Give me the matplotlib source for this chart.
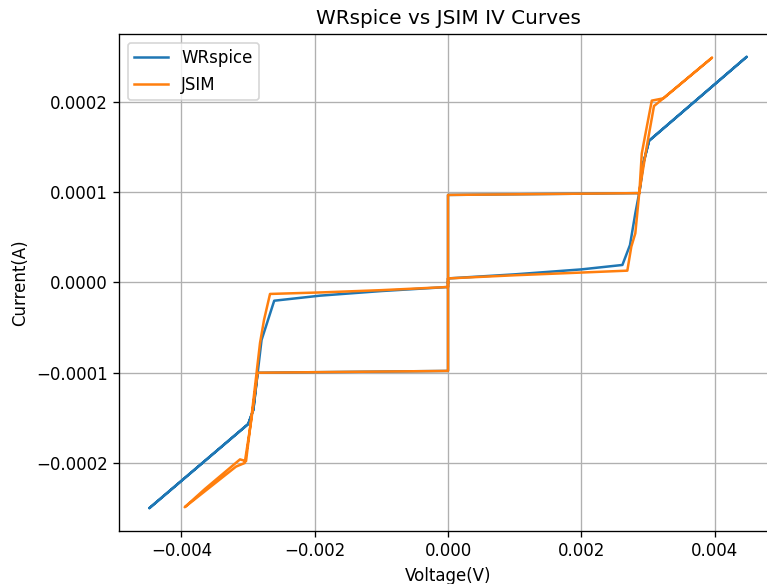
import matplotlib
matplotlib.use("Agg")
import matplotlib.pyplot as plt

# WRspice sweep: supercurrent branch, gap rise, normal branch, back down
# the subgap branch, then the same on the negative side
wr_v = [0.0, 0.0, 2.87e-3, 2.93e-3, 3.017e-3, 4.48e-3,
        3.017e-3, 2.93e-3, 2.87e-3, 2.81e-3, 2.73e-3, 2.616e-3,
        2.0e-3, 1.0e-3, 0.0,
        0.0, -2.856e-3, -2.92e-3, -2.997e-3, -4.48e-3,
        -2.997e-3, -2.92e-3, -2.856e-3, -2.797e-3, -2.607e-3,
        -1.92e-3, -1.0e-3, 0.0, 0.0]
wr_i = [0.0, 9.7e-5, 9.9e-5, 1.32e-4, 1.571e-4, 2.5e-4,
        1.571e-4, 1.32e-4, 1.0e-4, 7.67e-5, 4.15e-5, 1.94e-5,
        1.45e-5, 9.0e-6, 4.5e-6,
        -9.8e-5, -1.0e-4, -1.41e-4, -1.568e-4, -2.5e-4,
        -1.568e-4, -1.41e-4, -1.005e-4, -6.37e-5, -2.02e-5,
        -1.46e-5, -9.5e-6, -5.0e-6, 0.0]

# JSIM sweep, same order
js_v = [0.0, 0.0, 2.87e-3, 2.907e-3, 2.95e-3, 3.057e-3, 3.23e-3, 3.96e-3,
        3.23e-3, 3.09e-3, 2.98e-3, 2.87e-3, 2.81e-3, 2.75e-3, 2.69e-3,
        2.0e-3, 1.0e-3, 0.0,
        0.0, -2.856e-3, -2.95e-3, -3.05e-3, -3.18e-3, -3.95e-3,
        -3.65e-3, -3.12e-3, -3.03e-3, -2.95e-3, -2.82e-3, -2.76e-3,
        -2.67e-3, -1.9e-3, -1.0e-3, 0.0, 0.0]
js_i = [0.0, 9.7e-5, 9.9e-5, 1.43e-4, 1.6e-4, 2.015e-4, 2.04e-4, 2.49e-4,
        2.04e-4, 1.955e-4, 1.5e-4, 1.0e-4, 5.45e-5, 3.97e-5, 1.31e-5,
        1.1e-5, 8.0e-6, 4.5e-6,
        -9.8e-5, -1.0e-4, -1.52e-4, -2.0e-4, -2.04e-4, -2.49e-4,
        -2.29e-4, -1.96e-4, -1.98e-4, -1.5e-4, -6.7e-5, -4.15e-5,
        -1.27e-5, -1.1e-5, -8.5e-6, -5.0e-6, 0.0]

fig = plt.figure(figsize=(767 / 120, 584 / 120), dpi=120)
ax = fig.add_axes([0.1558, 0.0913, 0.8566, 0.85])
ax.plot(wr_v, wr_i, label="WRspice")
ax.plot(js_v, js_i, label="JSIM")
ax.set_title("WRspice vs JSIM IV Curves")
ax.set_xlabel("Voltage(V)")
ax.set_ylabel("Current(A)")
ax.grid(True)
ax.legend(loc="upper left")
fig.savefig("out.png", dpi=120)
